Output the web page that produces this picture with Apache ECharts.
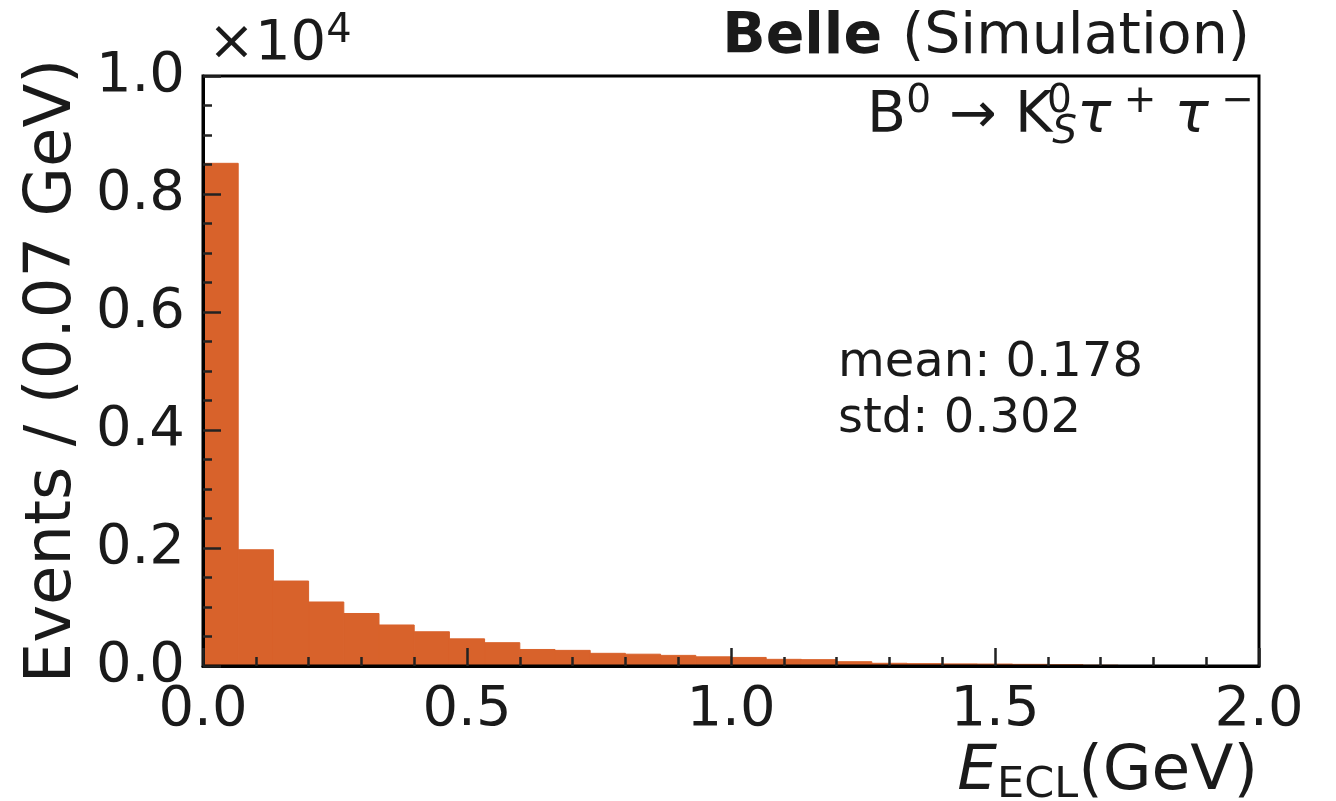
<!DOCTYPE html>
<html>
<head>
<meta charset="utf-8">
<script src="https://cdn.jsdelivr.net/npm/echarts@6/dist/echarts.min.js"></script>
<style>
  html, body { margin: 0; padding: 0; background: #fff; }
  #chart { width: 1336px; height: 801px; }
</style>
</head>
<body>
<div id="chart"></div>
<script>
// histogram of E_ECL, 30 bins from 0 to 2 GeV
const xMin = 0
const xMax = 2
const nBins = 30
const counts = [8520, 1970, 1440, 1085, 890, 695, 580, 460, 395, 280,
                265, 215, 200, 180, 155, 145, 113, 108, 73, 46,
                40, 36, 33, 28, 22, 14, 8, 6, 4, 3]
const xTicks = ['0.0', '0.5', '1.0', '1.5', '2.0']
const yTicks = ['0.0', '0.2', '0.4', '0.6', '0.8', '1.0']

const binWidth = (xMax - xMin) / nBins
const histData = counts.map((c, i) => [xMin + i * binWidth, xMin + (i + 1) * binWidth, c])

const FONT = 'DejaVu Sans'
const INK = '#1a1a1a'
const BAR = '#d8622b'

const chart = echarts.init(document.getElementById('chart'), null, { renderer: 'canvas' })

const option = {
  animation: false,
  backgroundColor: '#fff',
  grid: {
    left: 203, right: 77, top: 76, bottom: 135,
    show: true, borderColor: '#000', borderWidth: 3, backgroundColor: 'transparent',
    z: 10
  },
  xAxis: {
    type: 'value', min: xMin, max: xMax, interval: 0.5,
    axisLine: { show: true, lineStyle: { color: '#000', width: 3 } },
    axisTick: { show: true, inside: true, length: 18, lineStyle: { color: '#222', width: 2.5 } },
    minorTick: { show: true, splitNumber: 5, length: 9, lineStyle: { color: '#222', width: 2.5 } },
    splitLine: { show: false },
    axisLabel: {
      margin: 16, fontFamily: FONT, fontSize: 56, color: INK,
      formatter: v => xTicks[Math.round(v / 0.5)]
    },
    z: 10
  },
  yAxis: {
    type: 'value', min: 0, max: 10000, interval: 2000,
    name: 'Events / (0.07 GeV)', nameLocation: 'middle', nameGap: 111, nameRotate: 90,
    nameTextStyle: { fontFamily: FONT, fontSize: 64, color: INK },
    axisLine: { show: true, lineStyle: { color: '#000', width: 3 } },
    axisTick: { show: true, inside: true, length: 18, lineStyle: { color: '#222', width: 2.5 } },
    minorTick: { show: true, splitNumber: 4, length: 9, lineStyle: { color: '#222', width: 2.5 } },
    splitLine: { show: false },
    axisLabel: {
      margin: 18, fontFamily: FONT, fontSize: 56, color: INK,
      formatter: v => yTicks[Math.round(v / 2000)]
    },
    z: 10
  },
  series: [{
    type: 'custom',
    data: histData,
    encode: { x: [0, 1], y: 2 },
    renderItem: (params, api) => {
      const p0 = api.coord([api.value(0), 0])
      const p1 = api.coord([api.value(1), api.value(2)])
      return {
        type: 'rect',
        shape: { x: p0[0], y: p1[1], width: p1[0] - p0[0], height: p0[1] - p1[1] },
        style: { fill: BAR, stroke: BAR, lineWidth: 1 }
      }
    },
    z: 2
  }],
  graphic: [
    {
      type: 'text', left: 208, top: 12,
      style: {
        text: '{n|×10}{sup|4}',
        rich: {
          n: { fontFamily: FONT, fontSize: 56, fill: INK, lineHeight: 64 },
          sup: { fontFamily: FONT, fontSize: 40, fill: INK, lineHeight: 38, verticalAlign: 'top' }
        }
      }
    },
    {
      type: 'text', right: 86, top: 10,
      style: {
        text: '{b|Belle }{n|(Simulation)}',
        rich: {
          b: { fontFamily: FONT, fontSize: 57, fontWeight: 'bold', fill: INK, lineHeight: 66 },
          n: { fontFamily: FONT, fontSize: 57, fill: INK, lineHeight: 66 }
        }
      }
    },
    {
      type: 'text', right: 82, top: 82,
      style: {
        text: '{n|B}{sup|0}{n| → K}{sub|S}{it|τ}{sup| +}{it| τ}{sup| −}',
        rich: {
          n: { fontFamily: FONT, fontSize: 57, fill: INK, lineHeight: 70 },
          it: { fontFamily: FONT, fontSize: 57, fontStyle: 'italic', fill: INK, lineHeight: 70 },
          sup: { fontFamily: FONT, fontSize: 39, fill: INK, lineHeight: 38, verticalAlign: 'top' },
          sub: { fontFamily: FONT, fontSize: 39, fontStyle: 'italic', fill: INK, lineHeight: 38, verticalAlign: 'bottom' }
        }
      }
    },
    {
      type: 'text', left: 1047, top: 82,
      style: { text: '0', fontFamily: FONT, fontSize: 39, fill: INK }
    },
    {
      type: 'text', left: 838, top: 336,
      style: {
        text: 'mean: 0.178\nstd: 0.302',
        fontFamily: FONT, fontSize: 48, fill: INK, lineHeight: 56
      }
    },
    {
      type: 'text', right: 78, top: 741,
      style: {
        text: '{it|E}{sub|ECL}{n|(GeV)}',
        rich: {
          it: { fontFamily: FONT, fontSize: 63, fontStyle: 'italic', fill: INK, lineHeight: 70 },
          sub: { fontFamily: FONT, fontSize: 43, fill: INK, lineHeight: 42, verticalAlign: 'bottom' },
          n: { fontFamily: FONT, fontSize: 63, fill: INK, lineHeight: 70 }
        }
      }
    }
  ]
}

chart.setOption(option)
</script>
</body>
</html>
